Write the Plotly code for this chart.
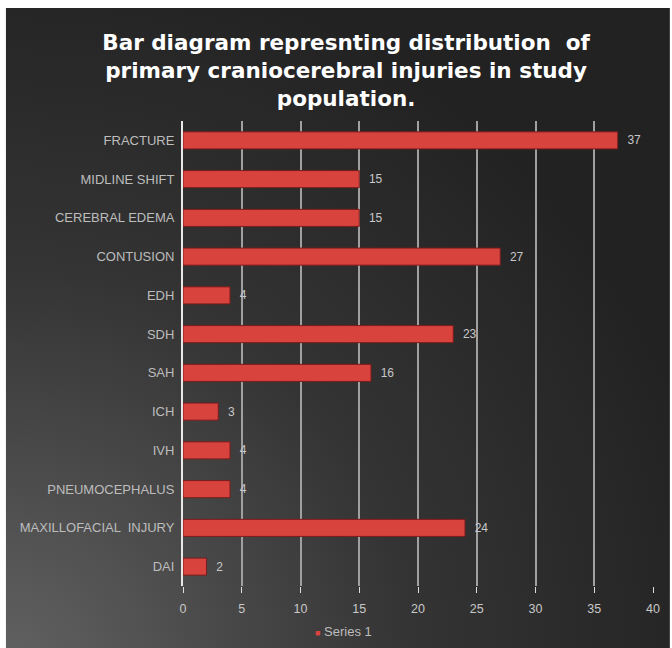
import plotly.graph_objects as go

categories = ["FRACTURE", "MIDLINE SHIFT", "CEREBRAL EDEMA", "CONTUSION", "EDH", "SDH",
              "SAH", "ICH", "IVH", "PNEUMOCEPHALUS", "MAXILLOFACIAL  INJURY", "DAI"]
values = [37, 15, 15, 27, 4, 23, 16, 3, 4, 4, 24, 2]
x_ticks = [0, 5, 10, 15, 20, 25, 30, 35, 40]
series_name = "Series 1"
title_text = ("Bar diagram represnting distribution  of<br>"
              "primary craniocerebral injuries in study<br>population.")

W, H = 672, 648
L, R, T, B = 183, 17, 121, 62
pw, ph = W - L - R, H - T - B

def px(x):
    return (x - L) / pw

def py(y):
    return (H - B - y) / ph

svg = ("<svg xmlns='http://www.w3.org/2000/svg' width='667' height='660' preserveAspectRatio='none'>"
       "<defs><radialGradient id='g' cx='0' cy='1' r='1.1'>"
       "<stop offset='0' stop-color='%23626262'/>"
       "<stop offset='0.55' stop-color='%23343434'/>"
       "<stop offset='1' stop-color='%23222222'/></radialGradient></defs>"
       "<rect width='667' height='660' fill='url(%23g)'/></svg>")
bg_src = "data:image/svg+xml;utf8," + svg

fig = go.Figure()
fig.add_trace(go.Bar(
    y=categories, x=values, orientation="h", name=series_name,
    width=0.44,
    marker=dict(color="#d9433d", line=dict(color="#7a1c1c", width=1)),
    text=values, texttemplate="  %{x}", textposition="outside",
    textfont=dict(color="#c8c8c8", size=12, family="Liberation Sans, Arial"),
    cliponaxis=False, showlegend=False,
))

fig.add_annotation(
    text="<span style='color:#d9433d;font-size:9px'>■</span> " + series_name,
    xref="paper", yref="paper", x=px(314), y=py(631), xanchor="left", yanchor="middle",
    showarrow=False, font=dict(color="#bdbdbd", size=13, family="Liberation Sans, Arial"),
)

fig.update_layout(
    width=W, height=H,
    margin=dict(l=L, r=R, t=T, b=B),
    paper_bgcolor="white",
    plot_bgcolor="rgba(0,0,0,0)",
    title=dict(text=title_text, x=0.515, xanchor="center", y=1 - 50 / H, yanchor="top",
               font=dict(family="DejaVu Sans", size=21.5, color="white", weight="bold")),
    images=[dict(source=bg_src, xref="paper", yref="paper",
                 x=px(5), y=py(8), sizex=px(672) - px(5), sizey=py(8) - py(668),
                 xanchor="left", yanchor="top", sizing="stretch", layer="below")],
    xaxis=dict(range=[0, 40], tickvals=x_ticks, ticks="outside", ticklen=6, tickcolor="#dddddd",
               showgrid=True, gridcolor="#a0a0a0", gridwidth=1.5, zeroline=False,
               showline=False, ticklabelstandoff=5,
               tickfont=dict(color="#c8c8c8", size=12.5, family="Liberation Sans, Arial")),
    yaxis=dict(autorange="reversed", showline=True, linecolor="#e8e8e8", linewidth=2,
               ticks="", showgrid=False, ticklabelstandoff=4,
               tickfont=dict(color="#bdbdbd", size=13, family="Liberation Sans, Arial")),
    showlegend=False,
    bargap=0.56,
)

fig.write_html("out.html")
